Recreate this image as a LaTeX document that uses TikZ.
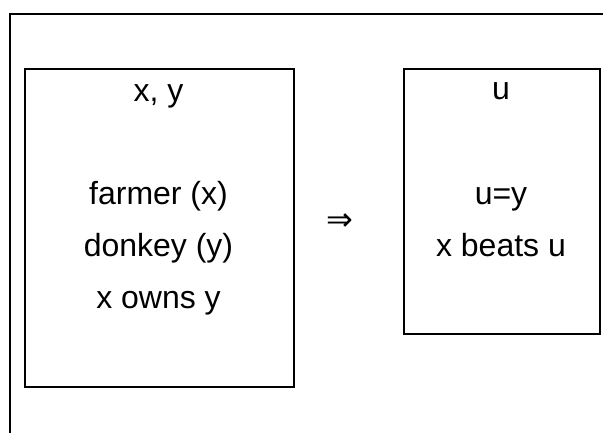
\documentclass[tikz,border=0pt]{standalone}
\usepackage{fontspec}
\setmainfont{Liberation Sans}
\newfontfamily\arrowfont{DejaVu Sans}
\begin{document}
\begin{tikzpicture}[x=0.75pt,y=-0.75pt,
  frame/.style={line width=1.5pt},
  drsbox/.style={draw,line width=1.5pt,anchor=north west,inner sep=0pt},
  txt/.style={anchor=base,inner sep=0pt,font=\fontsize{24}{28}\selectfont},
  implies/.style={anchor=center,inner sep=0pt,font=\arrowfont\fontsize{24}{28}\selectfont}]
\useasboundingbox (0,0) rectangle (603,432);
\clip (0,0) rectangle (603,432);
\coordinate (fb) at (10,440);
\coordinate (fc) at (10,14);
\coordinate (fr) at (612,14);
\draw[frame] (fb) -- (fc) -- (fr);
\node[drsbox,minimum width=201.75pt,minimum height=238.5pt] (L) at (24,68) {};
\node[drsbox,minimum width=147pt,minimum height=198.75pt] (R) at (403,68) {};
\node[txt] (lu) at (158.5,101) {x, y};
\node[txt] (l1) at (158.5,204) {farmer (x)};
\node[txt] (l2) at (158.5,256) {donkey (y)};
\node[txt] (l3) at (158.5,308) {x owns y};
\node[txt] (ru) at (501,99) {u};
\node[txt] (r1) at (501,204) {u=y};
\node[txt] (r2) at (501,256) {x beats u};
\node[implies] (arr) at (340,222) {⇒};
\end{tikzpicture}
\end{document}
